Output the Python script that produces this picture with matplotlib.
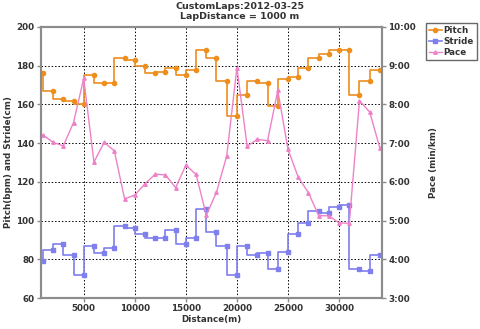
import matplotlib
matplotlib.use('Agg')
import matplotlib.pyplot as plt
from matplotlib.ticker import FuncFormatter, MultipleLocator

# lap end distances (m)
distance = [1000, 2000, 3000, 4000, 5000, 6000, 7000, 8000, 9000, 10000,
            11000, 12000, 13000, 14000, 15000, 16000, 17000, 18000, 19000, 20000,
            21000, 22000, 23000, 24000, 25000, 26000, 27000, 28000, 29000, 30000,
            31000, 32000, 33000, 34000]

pitch = [176, 167, 163, 162, 160, 175, 171, 171, 184, 183,
         180, 176, 177, 179, 175, 178, 188, 184, 172, 154,
         165, 172, 171, 159, 173, 174, 179, 184, 186, 188,
         188, 165, 172, 178]

stride = [79, 85, 88, 82, 72, 87, 83, 86, 97, 96,
          93, 91, 91, 95, 88, 91, 106, 94, 87, 72,
          87, 82, 83, 75, 84, 93, 99, 105, 104, 107,
          108, 75, 74, 82]

# pace in minutes per km
pace = [7.21, 7.02, 6.93, 7.53, 8.67, 6.51, 7.02, 6.80, 5.56, 5.66,
        5.95, 6.20, 6.18, 5.85, 6.43, 6.19, 5.14, 5.73, 6.67, 8.95,
        6.92, 7.10, 7.06, 8.36, 6.84, 6.12, 5.72, 5.13, 5.12, 4.94,
        4.93, 8.10, 7.80, 6.87]

c_pitch = '#EE8E1C'
c_stride = '#7F7FEE'
c_pace = '#EE82C8'
spine_col = '#8C8C8C'
txt_col = '#333333'
fs = 6.3

fig = plt.figure(figsize=(4.8, 3.29), dpi=100)
ax = fig.add_axes([0.0844, 0.0942, 0.712, 0.8238])
ax2 = ax.twinx()

l1, = ax.plot(distance, pitch, drawstyle='steps-pre', color=c_pitch, lw=1.2,
              marker='o', ms=3, label='Pitch')
l2, = ax.plot(distance, stride, drawstyle='steps-pre', color=c_stride, lw=1.2,
              marker='s', ms=3.5, label='Stride')
l3, = ax2.plot(distance, pace, color=c_pace, lw=1.0,
               marker='^', ms=2.5, label='Pace')

ax.set_xlim(770, 34230)
ax.set_ylim(60, 200)
ax2.set_ylim(3, 10)
ax.xaxis.set_major_locator(MultipleLocator(5000))
ax.yaxis.set_major_locator(MultipleLocator(20))
ax2.yaxis.set_major_locator(MultipleLocator(1))
ax2.yaxis.set_major_formatter(FuncFormatter(lambda v, p: '%d:%02d' % (int(v), round((v - int(v)) * 60))))

ax.grid(True, color='black', linestyle=(0, (1.5, 2)), lw=0.7)

for a in (ax, ax2):
    for s in a.spines.values():
        s.set_color(spine_col)
        s.set_linewidth(1.5)
    a.tick_params(colors=spine_col, labelcolor=txt_col, labelsize=fs, length=3, width=1, pad=1.5)
    for lab in a.get_xticklabels() + a.get_yticklabels():
        lab.set_fontweight('bold')

ax.set_xlabel('Distance(m)', fontsize=fs, fontweight='bold', color=txt_col, labelpad=1)
ax.set_ylabel('Pitch(bpm) and Stride(cm)', fontsize=fs, fontweight='bold', color=txt_col, labelpad=2)
ax2.set_ylabel('Pace (min/km)', fontsize=fs, fontweight='bold', color=txt_col, labelpad=9)

fig.text(0.5, 0.995, 'CustomLaps:2012-03-25\nLapDistance = 1000 m', ha='center', va='top',
         fontsize=6.8, fontweight='bold', color=txt_col, linespacing=1.15)

leg = fig.legend(handles=[l1, l2, l3], loc='upper left', bbox_to_anchor=(0.888, 0.93),
                 fontsize=fs, frameon=True, fancybox=False, handlelength=1.5,
                 handletextpad=0.2, borderpad=0.3, labelspacing=0.25, borderaxespad=0)
leg.get_frame().set_edgecolor('#444444')
leg.get_frame().set_linewidth(1.0)
for t in leg.get_texts():
    t.set_fontweight('bold')
    t.set_color(txt_col)

fig.savefig('out.png', dpi=100)
